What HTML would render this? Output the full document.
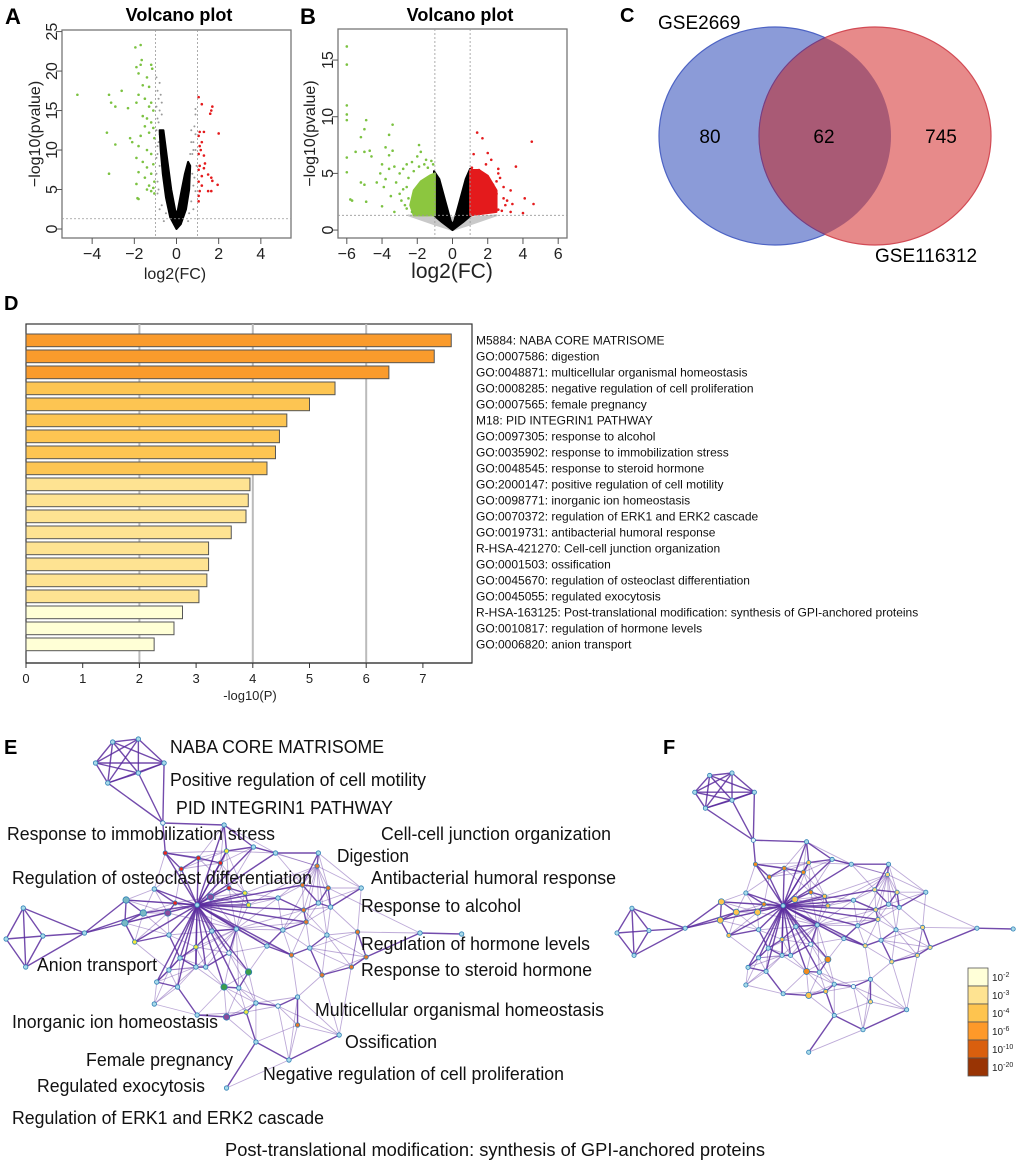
<!DOCTYPE html>
<html><head><meta charset="utf-8">
<style>
html,body{margin:0;padding:0;background:#fff;}
svg{display:block;font-family:"Liberation Sans",Arial,sans-serif;}
</style></head>
<body>
<svg id="fig" width="1020" height="1165" viewBox="0 0 1020 1165" xmlns="http://www.w3.org/2000/svg">
  <text x="5" y="24" font-size="22" font-weight="bold">A</text>
  <text x="300" y="24" font-size="22" font-weight="bold">B</text>
  <text x="620" y="22" font-size="20" font-weight="bold">C</text>
  <text x="4" y="310" font-size="20" font-weight="bold">D</text>
  <text x="4" y="754" font-size="20" font-weight="bold">E</text>
  <text x="663" y="754" font-size="20" font-weight="bold">F</text>

  <text x="179" y="21" font-size="18" font-weight="bold" text-anchor="middle">Volcano plot</text>
  <text x="460" y="21" font-size="18" font-weight="bold" text-anchor="middle">Volcano plot</text>

  <g id="volA"></g>
  <g id="volB"></g>

  <g>
    <defs><clipPath id="clipBlue"><ellipse cx="775" cy="136" rx="116" ry="109"/></clipPath></defs>
    <ellipse cx="775" cy="136" rx="116" ry="109" fill="#8b9bd8" stroke="#4d63c4" stroke-width="1.2"/>
    <ellipse cx="875" cy="136" rx="116" ry="109" fill="#e78a8a" stroke="#d24b55" stroke-width="1.2"/>
    <ellipse cx="875" cy="136" rx="116" ry="109" fill="#a95a75" stroke="#6d3f8a" stroke-width="1" clip-path="url(#clipBlue)"/>
    <text x="658" y="29" font-size="19">GSE2669</text>
    <text x="875" y="262" font-size="19">GSE116312</text>
    <text x="710" y="143" font-size="19" text-anchor="middle">80</text>
    <text x="824" y="143" font-size="19" text-anchor="middle">62</text>
    <text x="941" y="143" font-size="19" text-anchor="middle">745</text>
  </g>

  <g id="bars"></g>
  <g id="netE"></g>
  <g id="netF"></g>
  <g id="labelsE"></g>
  <g id="legendF"></g>
</svg>
<script>
var NS = "http://www.w3.org/2000/svg";
function mk(parent, tag, attrs) {
  var e = document.createElementNS(NS, tag);
  for (var k in attrs) e.setAttribute(k, attrs[k]);
  parent.appendChild(e);
  return e;
}

/* ---------- Volcano data ---------- */
var volA_green = [[-4.7,17],[-3.2,17],[-3.1,16],[-2.9,15.5],[-2.6,17.5],[-2.3,15.3],[-3.3,12.2],[-2.9,10.7],[-3.2,7],[-2.2,11.5],[-2.1,11],[-1.95,23],[-1.7,23.3],[-1.65,21.4],[-1.7,20.8],[-1.9,20.5],[-1.8,19.7],[-1.2,20.8],[-1.15,20.3],[-1.4,19.2],[-1.6,18.2],[-1.3,18],[-1.8,17],[-1.5,16.5],[-1.9,16],[-1.2,16],[-1.3,15.5],[-1.1,15],[-1.6,14.3],[-1.4,14],[-1.2,13.5],[-1.5,13],[-1.1,12.8],[-1.3,12.2],[-1.7,11.8],[-1.05,11.5],[-1.8,10.5],[-1.4,10],[-1.2,9.5],[-1.9,9],[-1.6,8.5],[-1.1,8.2],[-1.4,7.8],[-1.8,7.2],[-1.2,7],[-1.5,6.5],[-1.05,6],[-1.9,5.7],[-1.3,5.5],[-1.1,5.2],[-1.4,5],[-1.2,4.8],[-1.85,3.9],[-1.8,3.8],[-1.05,4.5]];
var volA_red = [[1.05,16.7],[1.2,15.8],[1.65,15],[1.7,15.5],[1.6,14.6],[2,12.1],[1.1,12.3],[1.3,12.3],[1.05,11.8],[1.2,11],[1.1,10.5],[1.15,10],[1.05,9.5],[1.3,9.3],[1.35,8.3],[1.1,8],[1.3,7.7],[1.05,7.5],[1.2,6.7],[1.5,6.9],[1.65,6.5],[1.7,6.1],[1.05,6],[1.2,5.5],[1.1,4.8],[1.5,4.8],[1.65,4.8],[1.95,5.6],[1.05,4.2],[1.05,3.5]];
var volA_cloud = [[0,0],[-0.3,1.5],[-0.5,4],[-0.65,7],[-0.75,10],[-0.8,12.5],[-0.62,12.5],[-0.45,9],[-0.25,5],[-0.05,2.2],[0.05,2.2],[0.25,5],[0.4,7],[0.55,8.5],[0.65,8],[0.6,5],[0.45,2.5],[0.2,0.6]];
var volA_grey = [[-0.95,19.2],[-0.8,18.5],[-0.9,17.5],[-0.85,16.5],[-0.95,15.5],[-0.8,15],[-0.9,14],[-0.95,12.5],[-0.85,11],[-0.9,9.5],[-0.8,8],[-0.95,7],[-0.7,16],[-0.75,17],[-0.7,14.5],[-0.85,13.5],[-0.8,12],[-0.9,10.5],[-0.95,9],[-0.9,6],[-0.85,5],[0.85,13],[0.7,12.5],[0.9,14.5],[0.8,11],[0.9,10],[0.75,9.5],[0.95,8],[0.85,6.5],[0.9,15.2],[0.7,11],[0.8,10],[0.65,9.5],[0.75,7],[0.8,5.5],[0.9,12],[-0.5,2],[-0.7,3],[0.6,2],[0.7,3.5],[-0.9,4.5],[0.9,4.8],[-0.6,1],[0.55,1],[0.8,2.5],[-0.8,2.5]];

var volB_green = [[-6,16.2],[-6,14.6],[-6,11],[-6,10.2],[-6,9.7],[-6,6.4],[-6,5.1],[-5.8,2.7],[-5.7,2.6],[-4.9,9.7],[-5,8.9],[-5.2,8.2],[-4.7,7],[-5,6.9],[-5.5,6.9],[-4.6,6.5],[-5.2,4.2],[-5,4],[-4.9,2.5],[-3.4,9.3],[-3.6,8.4],[-3.8,7.3],[-3.4,7],[-3.6,6.6],[-3.3,5.6],[-3.6,5.4],[-4,5.8],[-4.1,5],[-3.8,4.5],[-3.9,3.8],[-4.3,4.2],[-3.2,4.2],[-3.0,5],[-2.8,5.4],[-2.6,5.8],[-1.9,7.5],[-2,6.5],[-1.8,6.9],[-2.3,6],[-2.5,4.6],[-3.3,1.6],[-4,2.1],[-2.8,3.6],[-2.5,2.8],[-3.0,3.2],[-1.5,6.2],[-1.2,6.1],[-1.1,5.8],[-2.7,2.2],[-2.9,2.6],[-3.5,3],[-2.6,1.9],[-1.6,5.8],[-1.9,5.6],[-2.2,5.2],[-1.4,5.5],[-2.6,3.8],[-2.3,1.6]];
var volB_red = [[1.4,8.6],[1.7,8.1],[1.2,6.7],[2,6.8],[2.2,6.2],[1.9,5.8],[2.6,5.4],[3.6,5.6],[4.5,7.8],[3.3,3.5],[3.4,2.3],[4.1,2.8],[4.6,2.3],[4.0,1.5],[3.3,1.6],[2.8,1.7],[2.6,1.8],[2.9,2.8],[2.5,3.2],[2.3,4],[2.7,4.6],[1.5,5.3],[1.1,5.5],[3.0,2.2],[2.4,1.7],[3.1,2.6],[2.9,3.8],[2.6,5.0],[2.5,4.3]];
var volB_greenBlock = [[-1,1.3],[-2.2,1.3],[-2.4,2.2],[-2.2,3.5],[-1.8,4.3],[-1.3,4.8],[-1,5]];
var volB_redBlock = [[1,1.3],[1,5.3],[1.5,5.3],[2,4.8],[2.5,3.5],[2.5,1.6]];
var volB_cloud = [[0,0],[-0.6,0.7],[-1.05,1.3],[-1.1,3],[-1.05,5.2],[-0.75,4.5],[-0.4,2.5],[-0.1,0.8],[0,0.5],[0.1,0.8],[0.4,2.5],[0.75,4.5],[1.0,5.4],[1.05,3],[1.05,1.3],[0.6,0.7]];
var volB_band = [[-2.5,1.3],[-1,0.5],[0,0],[1,0.5],[2.5,1.3],[1,1.1],[-1,1.1]];

var volA_xticks = [-4,-2,0,2,4];
var volA_yticks = [0,5,10,15,20,25];
var volB_xticks = [-6,-4,-2,0,2,4,6];
var volB_yticks = [0,5,10,15];

function volcano(g, box, xdom, ydom, xticks, yticks, cfg) {
  var sx = function(v){ return box.x0 + (v - xdom[0]) / (xdom[1]-xdom[0]) * (box.x1 - box.x0); };
  var sy = function(v){ return box.y1 - (v - ydom[0]) / (ydom[1]-ydom[0]) * (box.y1 - box.y0); };
  var r = mk(g, "rect", {x:box.x0, y:box.y0, width:box.x1-box.x0, height:box.y1-box.y0, fill:"#fff", stroke:"#777", "stroke-width":1.3});
  
  
  function poly(arr, fill, op) {
    return mk(g, "polygon", {points: arr.map(function(d){return sx(d[0])+","+sy(d[1]);}).join(" "), fill:fill, opacity:op, stroke:fill, "stroke-width":2, "stroke-linejoin":"round"});
  }
  if (cfg.band) {
    var pb = poly(cfg.band, "#888", 0.45);
    
    
  }
  if (cfg.grey) {
    cfg.grey.forEach(function(d){
      var c = mk(g, "circle", {cx:sx(d[0]), cy:sy(d[1]), r:1, fill:"#999"});
      
      
    });
  }
  var pc = poly(cfg.cloud, "#000", 1);
  
  
  if (cfg.greenBlock) {
    var pg = poly(cfg.greenBlock, "#8cc63f", 1);
    
    
    var pr = poly(cfg.redBlock, "#e41a1c", 1);
    
    
  }
  function pts(arr, col, name, rad) {
    arr.forEach(function(d){
      var c = mk(g, "circle", {cx:sx(d[0]), cy:sy(d[1]), r:rad, fill:col});
      
      
    });
  }
  pts(cfg.green, "#7cc242", "down-regulated-point", 1.3);
  pts(cfg.red, "#e41a1c", "up-regulated-point", 1.3);
  [-1,1].forEach(function(v){
    var l = mk(g, "line", {x1:sx(v), x2:sx(v), y1:box.y0, y2:box.y1, stroke:"#999", "stroke-dasharray":"2,2", "stroke-width":0.8});
    
    
  });
  var h = mk(g, "line", {x1:box.x0, x2:box.x1, y1:sy(1.3), y2:sy(1.3), stroke:"#999", "stroke-dasharray":"2,2", "stroke-width":0.8});
  
  
  xticks.forEach(function(v){
    var t = mk(g, "line", {x1:sx(v), x2:sx(v), y1:box.y1, y2:box.y1+6, stroke:"#555"});
    
    
    var tx = mk(g, "text", {x:sx(v), y:cfg.xtY, "font-size":cfg.tickFs, "text-anchor":"middle", fill:"#222"});
    tx.textContent = (v<0 ? "\u2212"+(-v) : String(v));
    
    
  });
  yticks.forEach(function(v){
    var t = mk(g, "line", {x1:box.x0-6, x2:box.x0, y1:sy(v), y2:sy(v), stroke:"#555"});
    
    
    var tx = mk(g, "text", {x:cfg.ytX, y:sy(v), "font-size":cfg.tickFs, "text-anchor":"middle", fill:"#222", transform:"rotate(-90 "+cfg.ytX+" "+sy(v)+")"});
    tx.textContent = String(v);
    
    
  });
  var xl = mk(g, "text", {x:cfg.xlabX, y:cfg.xlabY, "font-size":cfg.labFs, "text-anchor":"middle", fill:"#222"});
  xl.textContent = "log2(FC)";
  
  
  var yy = (box.y0+box.y1)/2;
  var yl = mk(g, "text", {x:cfg.ylabX, y:yy, "font-size":cfg.ylabFs, "text-anchor":"middle", fill:"#222", transform:"rotate(-90 "+cfg.ylabX+" "+yy+")"});
  yl.textContent = "\u2212log10(pvalue)";
  
  
}
volcano(document.getElementById("volA"), {x0:62,x1:291,y0:30,y1:238}, [-5.43,5.43], [-1.14,25.2], volA_xticks, volA_yticks,
  {green:volA_green, red:volA_red, cloud:volA_cloud, grey:volA_grey, tickFs:16, labFs:16, ylabFs:16, xtY:259, ytX:57, xlabX:175, xlabY:279, ylabX:40});
volcano(document.getElementById("volB"), {x0:338,x1:567,y0:29,y1:238}, [-6.5,6.5], [-0.7,17.74], volB_xticks, volB_yticks,
  {green:volB_green, red:volB_red, cloud:volB_cloud, band:volB_band, greenBlock:volB_greenBlock, redBlock:volB_redBlock, tickFs:16, labFs:21, ylabFs:16, xtY:259, ytX:333, xlabX:452, xlabY:278, ylabX:315});

/* ---------- Bar chart ---------- */
var barTerms = ["M5884: NABA CORE MATRISOME","GO:0007586: digestion","GO:0048871: multicellular organismal homeostasis","GO:0008285: negative regulation of cell proliferation","GO:0007565: female pregnancy","M18: PID INTEGRIN1 PATHWAY","GO:0097305: response to alcohol","GO:0035902: response to immobilization stress","GO:0048545: response to steroid hormone","GO:2000147: positive regulation of cell motility","GO:0098771: inorganic ion homeostasis","GO:0070372: regulation of ERK1 and ERK2 cascade","GO:0019731: antibacterial humoral response","R-HSA-421270: Cell-cell junction organization","GO:0001503: ossification","GO:0045670: regulation of osteoclast differentiation","GO:0045055: regulated exocytosis","R-HSA-163125: Post-translational modification: synthesis of GPI-anchored proteins","GO:0010817: regulation of hormone levels","GO:0006820: anion transport"];
var barValues = [7.5,7.2,6.4,5.45,5.0,4.6,4.47,4.4,4.25,3.95,3.92,3.88,3.62,3.22,3.22,3.19,3.05,2.76,2.61,2.26];
var barXTicks = [0,1,2,3,4,5,6,7];
var barGrid = [2,4,6];
(function(){
  var g = document.getElementById("bars");
  var x0 = 26, x1 = 472, y0 = 324, y1 = 663;
  var sx = function(v){ return x0 + v * 56.7; };
  var pitch = 16, bh = 12.7, top = 334;
  function col(v){ return v >= 6 ? "#fa9b2c" : v >= 4 ? "#fdc552" : v >= 3 ? "#fee392" : "#ffffd6"; }
  var fr = mk(g, "rect", {x:x0, y:y0, width:x1-x0, height:y1-y0, fill:"#fff", stroke:"#333", "stroke-width":1.2});
  
  
  barGrid.forEach(function(v){
    var l = mk(g, "line", {x1:sx(v), x2:sx(v), y1:y0, y2:y1, stroke:"#bbb", "stroke-width":2});
    
    
  });
  barValues.forEach(function(v, i){
    var r = mk(g, "rect", {x:x0, y:top + i*pitch, width:sx(v)-x0, height:bh, fill:col(v), stroke:"#555", "stroke-width":1});
    
    
    var t = mk(g, "text", {x:476, y:top + i*pitch + bh/2 + 4.3, "font-size":12, fill:"#111"});
    t.textContent = barTerms[i];
    
    
  });
  var ax = mk(g, "line", {x1:x0, x2:x1, y1:y1, y2:y1, stroke:"#333", "stroke-width":1.2});
  
  
  barXTicks.forEach(function(v){
    var t = mk(g, "line", {x1:sx(v), x2:sx(v), y1:y1, y2:y1+5, stroke:"#333"});
    
    
    var tx = mk(g, "text", {x:sx(v), y:y1+20, "font-size":13, "text-anchor":"middle", fill:"#222"});
    tx.textContent = String(v);
    
    
  });
  var xl = mk(g, "text", {x:250, y:700, "font-size":13, "text-anchor":"middle", fill:"#222"});
  xl.textContent = "-log10(P)";
  
  
})();

/* ---------- Networks ---------- */
var netNodes = [
 [92,742,'b'],[113,739,'b'],[78,763,'b'],[134,763,'b'],[113,773,'b'],[88,783,'b'],
 [133,823,'w'],
 [19,908,'b'],[5,939,'b'],[35,936,'b'],[21,967,'b'],[69,933,'b'],
 [103,900,'c'],[102,923,'c'],[117,913,'c'],[110,942,'y'],[126,889,'b'],[135,853,'r'],[148,869,'r'],[162,858,'r'],
 [183,825,'b'],[185,851,'y'],[180,863,'r'],[187,888,'r'],[161,905,'b'],[143,903,'r'],[137,913,'p'],[138,935,'b'],
 [172,897,'p'],[200,893,'y'],[203,905,'y'],[207,847,'b'],[225,853,'b'],[247,885,'o'],[227,898,'b'],[260,853,'b'],
 [259,866,'o'],[268,888,'o'],[260,903,'b'],[295,888,'b'],[248,910,'o'],[270,907,'b'],[250,922,'o'],[231,930,'b'],
 [267,935,'b'],[292,932,'o'],[343,933,'b'],[377,934,'b'],[299,957,'o'],[287,967,'o'],[263,975,'o'],[238,955,'o'],
 [253,948,'b'],[218,946,'b'],[187,953,'w'],[173,931,'b'],[193,929,'b'],[160,947,'y'],[147,958,'b'],[138,970,'b'],
 [128,982,'b'],[145,987,'b'],[160,967,'b'],[168,967,'b'],[183,987,'g'],[203,972,'g'],[195,988,'b'],[209,1003,'b'],
 [227,1006,'w'],[201,1012,'y'],[185,1017,'p'],[161,1015,'b'],[126,1004,'b'],[243,997,'b'],[243,1025,'o'],[277,1035,'b'],
 [236,1060,'b'],[209,1042,'b'],[185,1088,'b']
];
var netExtraEdges = [[0,1],[0,2],[0,3],[0,4],[0,5],[1,2],[1,3],[1,4],[1,5],[2,3],[2,4],[2,5],[3,4],[3,5],[4,5],
 [6,3],[6,4],[6,5],[6,17],[6,20],[7,8],[7,9],[7,10],[7,11],[8,9],[8,10],[9,10],[9,11],[10,11],[11,12],[11,13],[11,14],
 [45,46],[46,47],[37,46],[77,78],[67,77],[73,75],[74,75],[75,45],[54,67],[76,73],[76,74]];
var hubIndex = 24;

function drawNet(g, tf, colorMap, rscale) {
  var P = netNodes.map(function(n){ return tf(n[0], n[1]); });
  var seen = {};
  function edge(a, b, strong) {
    var k = a < b ? a+"-"+b : b+"-"+a;
    if (seen[k] || a === b) return;
    seen[k] = 1;
    var l = mk(g, "line", {x1:P[a][0], y1:P[a][1], x2:P[b][0], y2:P[b][1], stroke:"#5b2c9e", "stroke-width": strong ? 1.4 : 0.9, opacity: strong ? 0.85 : 0.4});
    
    
  }
  for (var i = 12; i < netNodes.length; i++) {
    var d = [];
    for (var j = 12; j < netNodes.length; j++) if (j !== i) {
      var dx = netNodes[i][0]-netNodes[j][0], dy = netNodes[i][1]-netNodes[j][1];
      d.push([dx*dx+dy*dy, j]);
    }
    d.sort(function(a,b){ return a[0]-b[0]; });
    for (var m = 0; m < 5; m++) if (d[m][0] < 4200) edge(i, d[m][1], m < 2);
  }
  for (var h = 12; h < netNodes.length; h++) {
    var ddx = netNodes[h][0]-netNodes[hubIndex][0], ddy = netNodes[h][1]-netNodes[hubIndex][1];
    if (ddx*ddx + ddy*ddy < 95*95) edge(hubIndex, h, true);
  }
  [[36, 70],[56, 60],[21, 55]].forEach(function(s){
    for (var q = 12; q < netNodes.length; q++) {
      var ex = netNodes[q][0]-netNodes[s[0]][0], ey = netNodes[q][1]-netNodes[s[0]][1];
      if (ex*ex + ey*ey < s[1]*s[1]) edge(s[0], q, false);
    }
  });
  netExtraEdges.forEach(function(e){ edge(e[0], e[1], e[0] < 12); });
  netNodes.forEach(function(n, i){
    var big = (n[2] === 'c' || n[2] === 'p' || n[2] === 'g') ? 3.2 : 2.2;
    var c = mk(g, "circle", {cx:P[i][0], cy:P[i][1], r:big*rscale, fill:colorMap[n[2]], stroke:"#2f7fb5", "stroke-width":0.8});
    
    
  });
}
var colorsE = {b:"#a9dbe9", w:"#e8f6fa", c:"#78b9c4", y:"#f4ea3a", r:"#e8261f", o:"#e9782a", p:"#8a4b9c", g:"#3a9c4a"};
var colorsF = {b:"#a9dbe9", w:"#e8f6fa", c:"#fec44f", y:"#fec44f", r:"#f28a1c", o:"#fdd87a", p:"#fec44f", g:"#f28a1c"};
drawNet(document.getElementById("netE"), function(x,y){ return [x*1.2245, y]; }, colorsE, 1);
drawNet(document.getElementById("netF"), function(x,y){ return [617 + (x-5)*1.065, 773 + (y-739)*0.8]; }, colorsF, 0.95);

/* ---------- E labels ---------- */
var labelTexts = ["NABA CORE MATRISOME","Positive regulation of cell motility","PID INTEGRIN1 PATHWAY","Response to immobilization stress","Cell-cell junction organization","Digestion","Regulation of osteoclast differentiation","Antibacterial humoral response","Response to alcohol","Regulation of hormone levels","Response to steroid hormone","Anion transport","Multicellular organismal homeostasis","Inorganic ion homeostasis","Ossification","Female pregnancy","Negative regulation of cell proliferation","Regulated exocytosis","Regulation of ERK1 and ERK2 cascade","Post-translational modification: synthesis of GPI-anchored proteins"];
var labelPos = [[170,753,214],[170,786,256],[176,814,217],[7,840,268],[381,840,230],[337,862,72],[12,884,300],[371,884,245],[361,912,160],[361,950,229],[361,976,231],[37,971,120],[315,1016,289],[12,1028,206],[345,1048,92],[86,1066,147],[263,1080,301],[37,1092,168],[12,1124,312],[225,1156,540]];
(function(){
  var g = document.getElementById("labelsE");
  labelTexts.forEach(function(t, i){
    var p = labelPos[i];
    var e = mk(g, "text", {x:p[0], y:p[1], "font-size":18, fill:"#111", textLength:p[2], lengthAdjust:"spacingAndGlyphs"});
    e.textContent = t;
    
    
  });
})();

/* ---------- Legend ---------- */
var legendLabels = ["-2","-3","-4","-6","-10","-20"];
var legendColors = ["#ffffd8","#fee391","#fec44f","#fe9929","#d95f0e","#993404"];
(function(){
  var g = document.getElementById("legendF");
  legendLabels.forEach(function(l, i){
    var r = mk(g, "rect", {x:968, y:968 + i*18, width:20, height:18, fill:legendColors[i], stroke:"#555", "stroke-width":0.8});
    
    
    var t = mk(g, "text", {x:992, y:968 + i*18 + 13, "font-size":10, fill:"#222"});
    t.textContent = "10";
    var s = mk(t, "tspan", {dy:-4, "font-size":7});
    s.textContent = l;
    
    
  });
})();
</script>
</body></html>
